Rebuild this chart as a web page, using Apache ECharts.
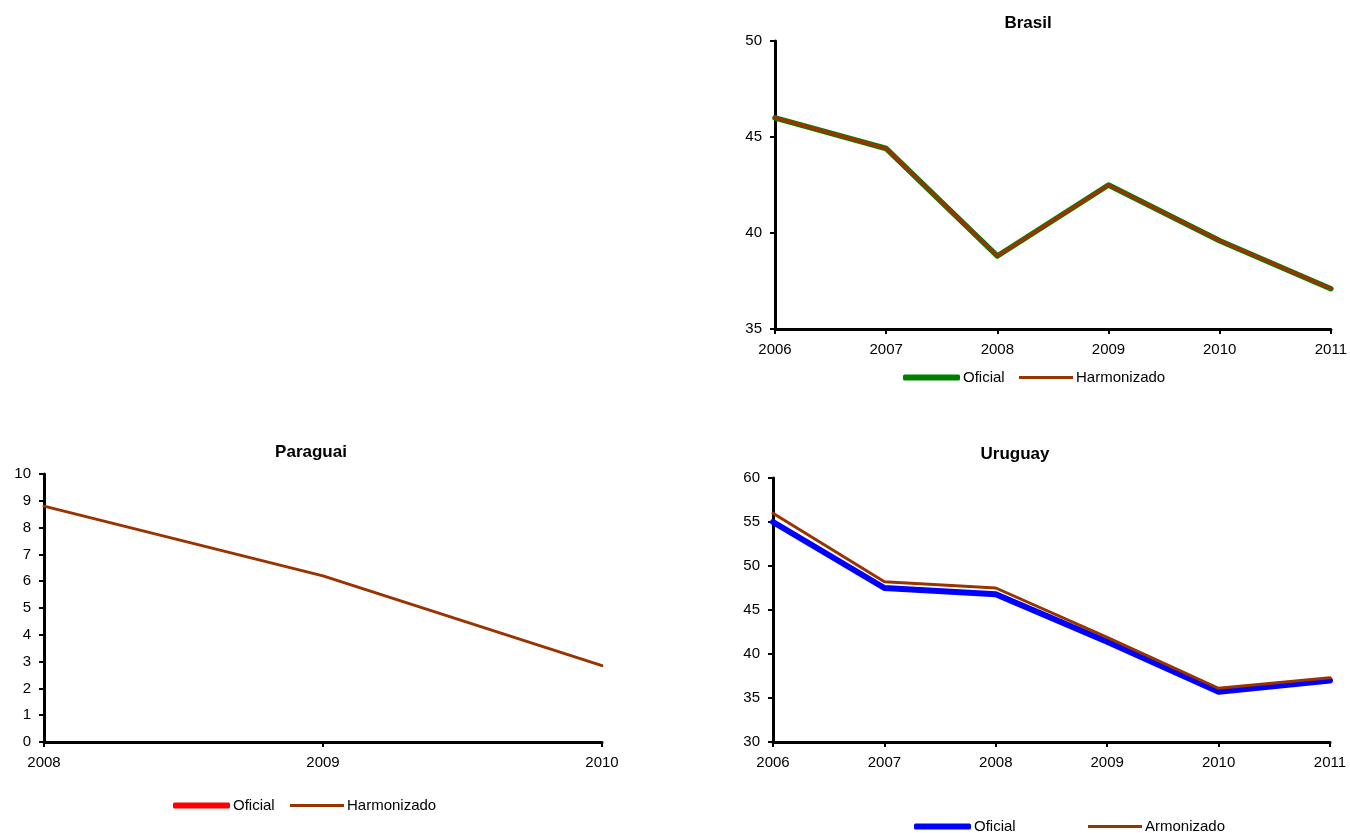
<!DOCTYPE html>
<html>
<head>
<meta charset="utf-8">
<script src="https://cdn.jsdelivr.net/npm/echarts@6/dist/echarts.min.js"></script>
<style>
  html, body { margin: 0; padding: 0; background: #fff; }
  #chart { width: 1350px; height: 833px; }
</style>
</head>
<body>
<div id="chart"></div>
<script>
// Years on each panel
const yearsBrasil = ['2006', '2007', '2008', '2009', '2010', '2011'];
const yearsParaguai = ['2008', '2009', '2010'];
const yearsUruguay = ['2006', '2007', '2008', '2009', '2010', '2011'];

// Brasil
const brasilOficial = [46.0, 44.4, 38.8, 42.5, 39.6, 37.1];
const brasilHarmonizado = [46.0, 44.4, 38.8, 42.5, 39.6, 37.1];

// Paraguai (no official series published)
const paraguaiOficial = [];
const paraguaiHarmonizado = [8.8, 6.2, 2.85];

// Uruguay
const uruguayOficial = [55.0, 47.5, 46.8, 41.4, 35.7, 37.0];
const uruguayArmonizado = [56.0, 48.2, 47.5, 41.9, 36.1, 37.3];

const FONT = '"Liberation Sans", Arial, sans-serif';
const GREEN = '#008000', RED = '#ff0000', BLUE = '#0000ff', BROWN = '#993300';

function xAx(gridIndex, data) {
  return {
    type: 'category', gridIndex, data, boundaryGap: false,
    axisLine: { lineStyle: { color: '#000', width: 3 } },
    axisTick: { show: true, length: 5, lineStyle: { color: '#000', width: 2 } },
    axisLabel: { color: '#000', fontFamily: FONT, fontSize: 15, margin: 13 },
    splitLine: { show: false }
  };
}
function yAx(gridIndex, min, max, interval) {
  return {
    type: 'value', gridIndex, min, max, interval,
    axisLine: { show: true, lineStyle: { color: '#000', width: 3 } },
    axisTick: { show: true, length: 5, lineStyle: { color: '#000', width: 2 } },
    axisLabel: { color: '#000', fontFamily: FONT, fontSize: 15, margin: 13 },
    splitLine: { show: false }
  };
}
function line(name, idx, data, color, width, z) {
  return {
    name, type: 'line', xAxisIndex: idx, yAxisIndex: idx, data,
    symbol: 'none', z,
    lineStyle: { color, width, join: 'round', cap: 'round' },
    itemStyle: { color }
  };
}
function titleAt(text, x, y) {
  return { text, left: x, top: y, textAlign: 'center', padding: 0,
           textStyle: { fontFamily: FONT, fontSize: 17, fontWeight: 'bold', color: '#000' } };
}
// One legend entry placed at (x, centre y); thick entries get a rounded bar
function legendAt(name, label, color, x, cy, thick) {
  return {
    left: x, top: cy - 7, padding: 0, selectedMode: false,
    itemWidth: thick ? 57 : 54, itemHeight: thick ? 6 : 3,
    textStyle: { fontFamily: FONT, fontSize: 15, color: '#000', padding: [0, 0, 0, -2] },
    formatter: () => label,
    data: [{ name, icon: thick ? 'roundRect' : 'rect', itemStyle: { color } }]
  };
}

const option = {
  backgroundColor: '#fff',
  animation: false,
  title: [
    titleAt('Brasil', 1028, 15),
    titleAt('Paraguai', 311, 444),
    titleAt('Uruguay', 1015, 446)
  ],
  grid: [
    { left: 775, top: 41, width: 557, height: 288 },
    { left: 44, top: 474, width: 558, height: 268 },
    { left: 773, top: 478, width: 557, height: 264 }
  ],
  xAxis: [xAx(0, yearsBrasil), xAx(1, yearsParaguai), xAx(2, yearsUruguay)],
  yAxis: [yAx(0, 35, 50, 5), yAx(1, 0, 10, 1), yAx(2, 30, 60, 5)],
  legend: [
    legendAt('Oficial', 'Oficial', GREEN, 903, 377, true),
    legendAt('Harmonizado', 'Harmonizado', BROWN, 1019, 377, false),
    legendAt('Oficial ', 'Oficial', RED, 173, 805, true),
    legendAt('Harmonizado ', 'Harmonizado', BROWN, 290, 805, false),
    legendAt('Oficial  ', 'Oficial', BLUE, 914, 826, true),
    legendAt('Armonizado', 'Armonizado', BROWN, 1088, 826, false)
  ],
  series: [
    line('Oficial', 0, brasilOficial, GREEN, 5.5, 2),
    line('Harmonizado', 0, brasilHarmonizado, BROWN, 3.5, 3),
    line('Oficial ', 1, paraguaiOficial, RED, 5, 2),
    line('Harmonizado ', 1, paraguaiHarmonizado, BROWN, 3, 3),
    line('Oficial  ', 2, uruguayOficial, BLUE, 6, 2),
    line('Armonizado', 2, uruguayArmonizado, BROWN, 3, 3)
  ]
};

const chart = echarts.init(document.getElementById('chart'), null, { renderer: 'canvas' });
chart.setOption(option);
</script>
</body>
</html>
